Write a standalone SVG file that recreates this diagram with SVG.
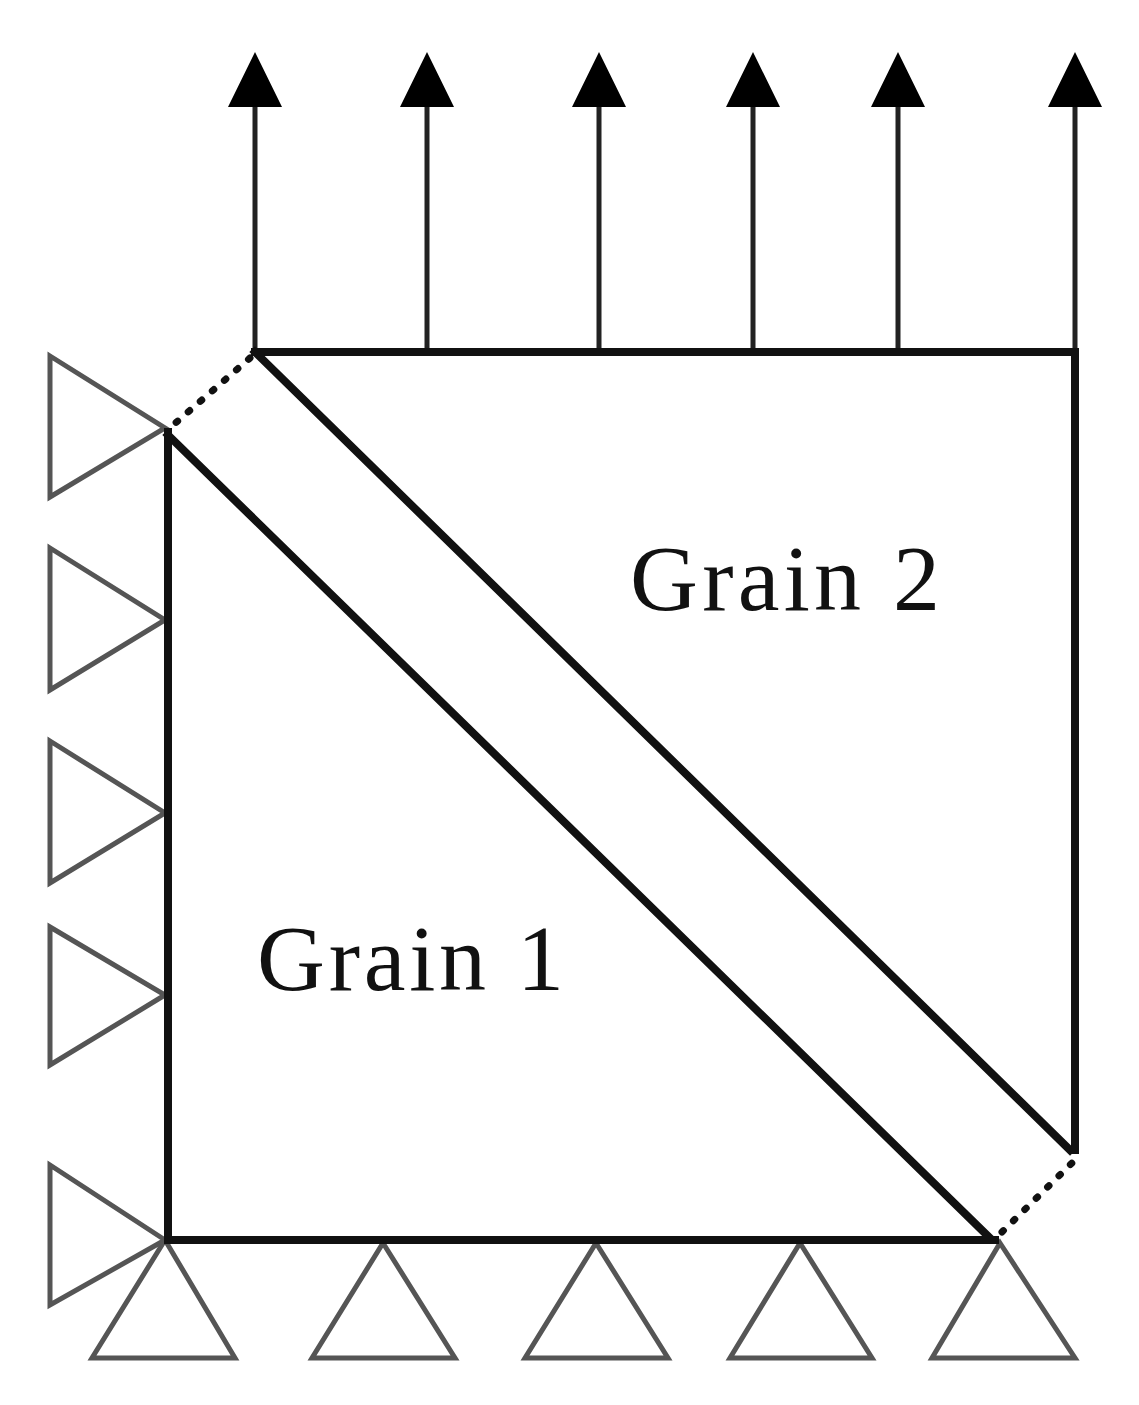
<svg xmlns="http://www.w3.org/2000/svg" width="1139" height="1405" viewBox="0 0 1139 1405">
<style>
.e{stroke:#111;stroke-width:8;fill:none;stroke-linecap:square}
.a{stroke:#222;stroke-width:5;fill:none}
.s{stroke:#555;stroke-width:5;fill:none;stroke-linejoin:miter}
.d{stroke:#111;stroke-width:7;fill:none;stroke-dasharray:2 14;stroke-linecap:round}
.t{font-family:"Liberation Serif",serif;font-size:94px;fill:#111}
</style>
<rect width="1139" height="1405" fill="#fff"/>
<g id="supports">
<path class="s" d="M50 356L165 428L50 497Z M50 548L165 620L50 690Z M50 741L165 813L50 883Z M50 927L165 995L50 1065Z M50 1165L165 1240L50 1305Z"/>
<path class="s" d="M165 1240L235 1358L92 1358Z M383 1243L455 1358L312 1358Z M596 1243L668 1358L525 1358Z M800 1243L872 1358L730 1358Z M1000 1243L1075 1358L932 1358Z"/>
</g>
<g id="connectors">
<path class="a" d="M255 350V100 M427 350V100 M599 350V100 M753 350V100 M898 350V100 M1075 350V100"/>
<path fill="#000" d="M228 107L255 52L282 107Z M400 107L427 52L454 107Z M572 107L599 52L626 107Z M726 107L753 52L780 107Z M871 107L898 52L925 107Z M1048 107L1075 52L1102 107Z"/>
</g>
<g id="grain2">
<path class="e" d="M255 352H1075V1150 M255 352L1070 1150"/>
<text class="t" x="630" y="610" textLength="310" lengthAdjust="spacing">Grain 2</text>
</g>
<g id="grain1">
<path class="e" d="M168 432V1240H995 M168 435L990 1238"/>
<text class="t" x="257" y="990" textLength="307" lengthAdjust="spacing">Grain 1</text>
</g>
<g id="boundary">
<path class="d" d="M250 358L172 426 M1002 1232L1073 1162"/>
</g>
</svg>
